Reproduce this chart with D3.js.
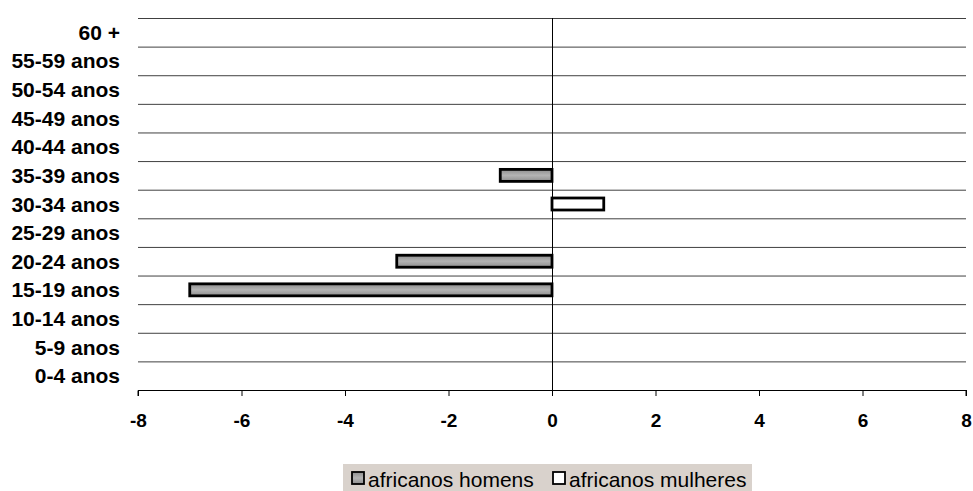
<!DOCTYPE html>
<html><head><meta charset="utf-8">
<script src="https://cdn.jsdelivr.net/npm/d3@7"></script>
<style>body{margin:0;background:#fff}svg{display:block}</style>
</head><body>
<svg id="c" width="973" height="491"></svg>
<script>
const categories = ["60 +","55-59 anos","50-54 anos","45-49 anos","40-44 anos","35-39 anos","30-34 anos","25-29 anos","20-24 anos","15-19 anos","10-14 anos","5-9 anos","0-4 anos"];
const homens = [0,0,0,0,0,-1,0,0,-3,-7,0,0,0];
const mulheres = [0,0,0,0,0,0,1,0,0,0,0,0,0];
const seriesNames = ["africanos homens","africanos mulheres"];
const xTicks = [-8,-6,-4,-2,0,2,4,6,8];

const svg = d3.select("#c");
const font = "Liberation Sans, Arial, sans-serif";
const x = d3.scaleLinear().domain([-8,8]).range([138,966]);
const y = d3.scaleBand().domain(categories).range([18,390]);

const defs = svg.append("defs");
const g1 = defs.append("linearGradient").attr("id","gh").attr("x1",0).attr("y1",0).attr("x2",0).attr("y2",1);
g1.append("stop").attr("offset","0%").attr("stop-color","#8e8e8e");
g1.append("stop").attr("offset","50%").attr("stop-color","#b4b4b4");
g1.append("stop").attr("offset","100%").attr("stop-color","#8e8e8e");

// gridlines
svg.append("g").selectAll("line").data(categories).join("line")
  .attr("x1",x(-8)).attr("x2",x(8))
  .attr("y1",d=>y(d)+0.5).attr("y2",d=>y(d)+0.5)
  .attr("stroke","#404040").attr("stroke-width",1);

// x axis
const xa = svg.append("g").attr("transform","translate(0,390)")
  .call(d3.axisBottom(x).tickValues(xTicks).tickSize(6).tickPadding(18).tickFormat(d=>String(d)));
xa.select(".domain").attr("stroke","#000").attr("d","M"+x(-8)+",6V0.5H"+x(8)+"V6");
xa.selectAll(".tick line").attr("stroke","#000");
xa.selectAll("text").attr("font-family",font).attr("font-weight","bold").attr("font-size",19).attr("fill","#000");

// zero line
svg.append("line").attr("x1",x(0)+0.5).attr("x2",x(0)+0.5).attr("y1",18).attr("y2",390).attr("stroke","#000");

// category labels
svg.append("g").selectAll("text").data(categories).join("text")
  .attr("x",120).attr("y",d=>y(d)+y.bandwidth()/2).attr("dy","0.36em")
  .attr("text-anchor","end").attr("font-family",font).attr("font-weight","bold")
  .attr("font-size",21).text(d=>d);

// bars
const bh = 12;
function bars(vals, fill){
  svg.append("g").selectAll("rect").data(vals.map((v,i)=>({v,c:categories[i]})).filter(d=>d.v!==0)).join("rect")
    .attr("x",d=>x(Math.min(0,d.v))).attr("width",d=>Math.abs(x(d.v)-x(0)))
    .attr("y",d=>y(d.c)+y.bandwidth()/2-bh/2).attr("height",bh)
    .attr("fill",fill).attr("stroke","#000").attr("stroke-width",2.8);
}
bars(homens,"url(#gh)");
bars(mulheres,"#fff");

// legend
const lg = svg.append("g");
lg.append("rect").attr("x",343).attr("y",464).attr("width",409).attr("height",30).attr("fill","#d9d2cc");
const items = [{n:seriesNames[0],f:"url(#gh)",x:352,tx:368},{n:seriesNames[1],f:"#fff",x:553,tx:569}];
items.forEach(it=>{
  lg.append("rect").attr("x",it.x).attr("y",472).attr("width",12).attr("height",12).attr("fill",it.f).attr("stroke","#000").attr("stroke-width",1.8);
  lg.append("text").attr("x",it.tx).attr("y",479).attr("dy","0.36em").attr("font-family",font).attr("font-size",21).text(it.n);
});
</script>
</body></html>
